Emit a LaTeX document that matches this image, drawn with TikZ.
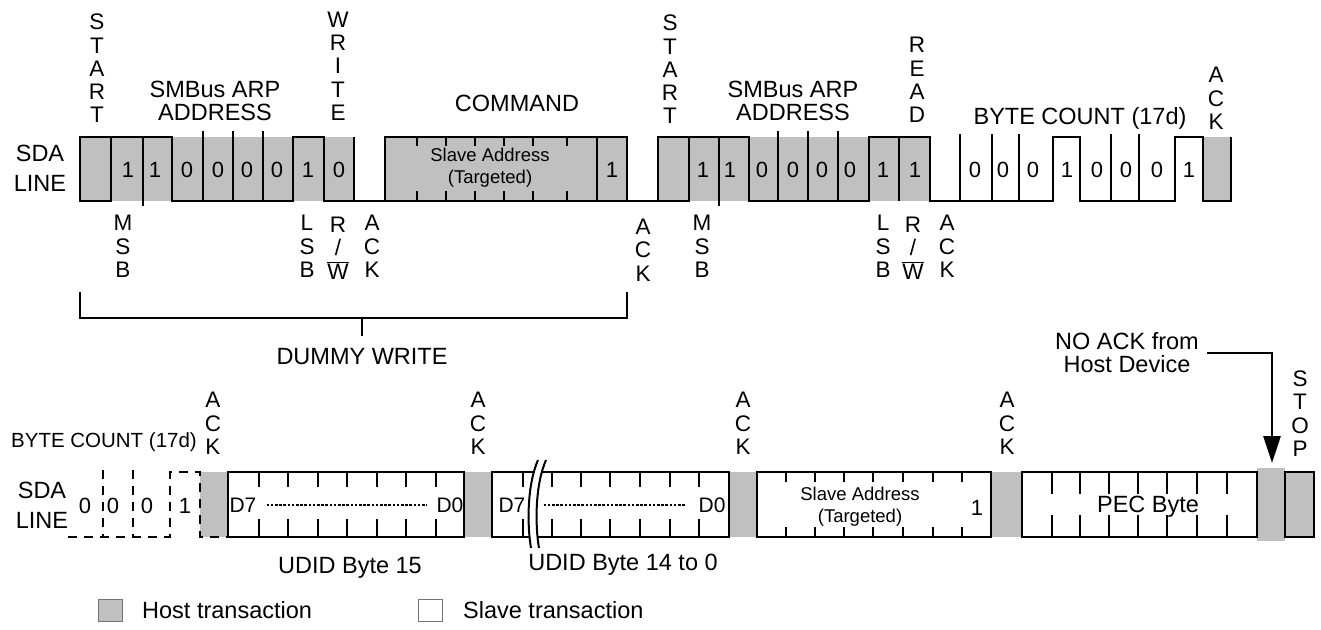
\documentclass[tikz,border=0pt]{standalone}
\usepackage{fontspec}
\setmainfont{Liberation Sans}
\usetikzlibrary{arrows.meta, positioning, calc}
\definecolor{hostgray}{RGB}{192,192,192}

\begin{document}
\begin{tikzpicture}[x=1pt, y=-1pt,
    wave/.style={line width=2.7pt},
    tick/.style={line width=2.4pt},
    dashwave/.style={line width=2.7pt, dash pattern=on 9pt off 7pt},
    dotline/.style={line width=2.6pt, dash pattern=on 2.6pt off 1.6pt},
    lbl/.style={font=\fontsize{23.5}{23}\selectfont, inner sep=0pt, align=center},
    vlbl/.style={font=\fontsize{22.5}{23.3}\selectfont, inner sep=0pt, align=center},
    bitlbl/.style={font=\fontsize{22}{22}\selectfont, inner sep=0pt},
    dlbl/.style={font=\fontsize{21}{22}\selectfont, inner sep=0pt},
    addrlbl/.style={font=\fontsize{18.5}{22}\selectfont, inner sep=0pt, align=center}]

    \useasboundingbox (0,0) rectangle (1321,629);

    % Host shading, upper line
    \foreach \a/\b in {80/354, 385/627, 658/930, 1203/1231}
        \fill[hostgray] (\a,137) rectangle (\b,201);

    % Start conditions
    \draw[wave] (80,137) rectangle (111,201);
    \draw[wave] (658,137) rectangle (689,201);

    % Upper waveform
    \draw[wave] (111,137) -- (172,137) -- (172,201) -- (293,201) -- (293,137) -- (324,137)
        -- (324,201) -- (385,201) -- (385,137) -- (627,137) -- (627,201) -- (658,201);
    \draw[wave] (385,201) -- (627,201);
    \draw[wave] (689,137) -- (749,137) -- (749,201) -- (869,201) -- (869,137) -- (930,137)
        -- (930,201) -- (1053,201) -- (1053,137) -- (1080,137) -- (1080,201) -- (1175,201)
        -- (1175,137) -- (1203,137) -- (1203,201) -- (1231,201) -- (1231,137);

    % Bit separators
    \foreach \x in {143, 719} \draw[tick] (\x,137) -- (\x,206);
    \foreach \x in {203, 233, 263, 778, 808, 838} \draw[tick] (\x,131) -- (\x,201);
    \foreach \x in {354, 597, 899} \draw[tick] (\x,137) -- (\x,201);
    \foreach \x in {960, 992, 1019, 1111, 1139} \draw[tick] (\x,134) -- (\x,201);
    \foreach \x in {417, 446, 475, 504, 533, 567} {
        \draw[tick] (\x,137) -- (\x,146);
        \draw[tick] (\x,191) -- (\x,201);
    }

    % Bit values
    \foreach \x/\d in {128/1, 155/1, 187/0, 218/0, 247/0, 277/0, 308/1, 339/0, 612/1,
                       703/1, 730/1, 762/0, 793/0, 822/0, 850/0, 883/1, 915/1,
                       975/0, 1003/0, 1033/0, 1067/1, 1097/0, 1126/0, 1157/0, 1189/1}
        \node[bitlbl] (bit\x) at (\x,170) {\d};
    \node[addrlbl] (cmdaddr) at (490,168) {Slave Address\\(Targeted)};

    % Upper labels
    \node[lbl] (sda1) at (40,168) {SDA\\[7pt]LINE};
    \node[vlbl] (start1) at (97,68.5) {S\\T\\A\\R\\T};
    \node[lbl] (arp1) at (215,101) {SMBus ARP\\ADDRESS};
    \node[vlbl] (write) at (338,66) {W\\R\\I\\T\\E};
    \node[lbl] (command) at (517,103) {COMMAND};
    \node[vlbl] (start2) at (670,69.5) {S\\T\\A\\R\\T};
    \node[lbl] (arp2) at (793,101) {SMBus ARP\\ADDRESS};
    \node[vlbl] (read) at (917,80) {R\\E\\A\\D};
    \node[lbl] (count1) at (1080,118) {BYTE COUNT (17d)};
    \node[vlbl] (ackc) at (1216,98.5) {A\\C\\K};

    \node[vlbl] (msb1) at (123,246.5) {M\\S\\B};
    \node[vlbl] (lsb1) at (307,246.5) {L\\S\\B};
    \node[vlbl] (rw1) at (338,248) {R\\/\\$\overline{\mbox{W}}$};
    \node[vlbl] (ack1) at (372,246.5) {A\\C\\K};
    \node[vlbl] (ack2) at (643,250) {A\\C\\K};
    \node[vlbl] (msb2) at (702,246.5) {M\\S\\B};
    \node[vlbl] (lsb2) at (883,246.5) {L\\S\\B};
    \node[vlbl] (rw2) at (913,248) {R\\/\\$\overline{\mbox{W}}$};
    \node[vlbl] (ack3) at (947,246.5) {A\\C\\K};

    % Dummy write bracket
    \coordinate (dwl) at (80,292);
    \coordinate (dwr) at (627,292);
    \coordinate (dwm) at (362,318);
    \node[lbl] (dummy) at (362,357) {DUMMY WRITE};
    \draw[tick] (dwl) -- (dwl |- dwm) -- (dwr |- dwm) -- (dwr);
    \draw[tick] (dwm) -- ++(0,18);

    % Host shading, lower line
    \foreach \a/\b in {200/228, 464/492, 729/757, 991/1022}
        \fill[hostgray] (\a,472) rectangle (\b,537);
    \fill[hostgray] (1257,468) rectangle (1285,541);
    \fill[hostgray] (1285,472) rectangle (1314,537);

    % Byte count, continued
    \draw[dashwave] (68,537) -- (170,537) -- (170,472) -- (200,472) -- (200,537) -- (228,537);
    \foreach \x in {103, 133} \draw[dashwave] (\x,470) -- (\x,537);
    \foreach \x/\d in {85/0, 113/0, 147/0, 185/1}
        \node[bitlbl] (cbit\x) at (\x,506) {\d};

    % Data bytes
    \draw[wave] (228,472) rectangle (464,537);
    \draw[wave] (492,472) rectangle (729,537);
    \draw[wave] (757,472) rectangle (991,537);
    \draw[wave] (1022,472) rectangle (1257,537);
    \draw[wave] (1285,472) rectangle (1314,537);
    \foreach \x in {259, 288, 318, 347, 377, 406, 436, 523, 552, 581, 610, 640, 670, 699} {
        \draw[tick] (\x,472) -- (\x,487);
        \draw[tick] (\x,519) -- (\x,537);
    }
    \foreach \x in {786, 815, 844, 873, 903, 933, 962} {
        \draw[tick] (\x,472) -- (\x,482);
        \draw[tick] (\x,527) -- (\x,537);
    }
    \foreach \x in {1052, 1080, 1109, 1138, 1167, 1197, 1227} {
        \draw[tick] (\x,472) -- (\x,494);
        \draw[tick] (\x,515) -- (\x,537);
    }

    % Break in the byte run
    \fill[white] (538,460) .. controls (527,485) and (527,525) .. (531,548)
        -- (539,548) .. controls (535,525) and (535,485) .. (546,460) -- cycle;
    \draw[line width=2pt] (538,460) .. controls (527,485) and (527,525) .. (531,548);
    \draw[line width=2pt] (546,460) .. controls (535,485) and (535,525) .. (539,548);

    % Byte contents
    \node[dlbl] (d7a) at (243,505) {D7};
    \node[dlbl] (d0a) at (450,505) {D0};
    \node[dlbl] (d7b) at (512,505) {D7};
    \node[dlbl] (d0b) at (712,505) {D0};
    \draw[dotline] (d7a.east) ++(10,0) -- ([xshift=-10pt]d0a.west);
    \draw[dotline] (d7b.east) ++(18,0) -- ([xshift=-12pt]d0b.west);
    \node[addrlbl] (slvaddr) at (860,507) {Slave Address\\(Targeted)};
    \node[bitlbl] (slvbit) at (977,508) {1};
    \node[lbl] (pec) at (1148,507) {PEC Byte};

    % Lower labels
    \node[lbl, font=\fontsize{20.5}{22}\selectfont] (count2) at (104,442) {BYTE COUNT (17d)};
    \node[lbl] (sda2) at (42,505) {SDA\\[7pt]LINE};
    \node[vlbl] (ack4) at (213,423.5) {A\\C\\K};
    \node[vlbl] (ack5) at (478,423.5) {A\\C\\K};
    \node[vlbl] (ack6) at (743,423.5) {A\\C\\K};
    \node[vlbl] (ack7) at (1007,423.5) {A\\C\\K};
    \node[vlbl] (stop) at (1300,413.5) {S\\T\\O\\P};
    \node[lbl] (udid15) at (350,568) {UDID Byte 15};
    \node[lbl] (udid14) at (623,565) {UDID Byte 14 to 0};

    % No acknowledge
    \node[lbl] (noack) at (1127,353) {NO ACK from\\Host Device};
    \coordinate (noackpt) at (1272,463);
    \draw[wave, -{Triangle[length=27pt, width=17pt]}] ([xshift=8pt]noack.east) -| (noackpt);

    % Legend
    \filldraw[fill=hostgray, draw=black!55, line width=1pt] (98,599) rectangle (122,621);
    \node[lbl, anchor=west] (hostleg) at (142,610) {Host transaction};
    \draw[draw=black!55, line width=1pt] (418,599) rectangle (442,621);
    \node[lbl, anchor=west] (slaveleg) at (463,610) {Slave transaction};
\end{tikzpicture}
\end{document}
